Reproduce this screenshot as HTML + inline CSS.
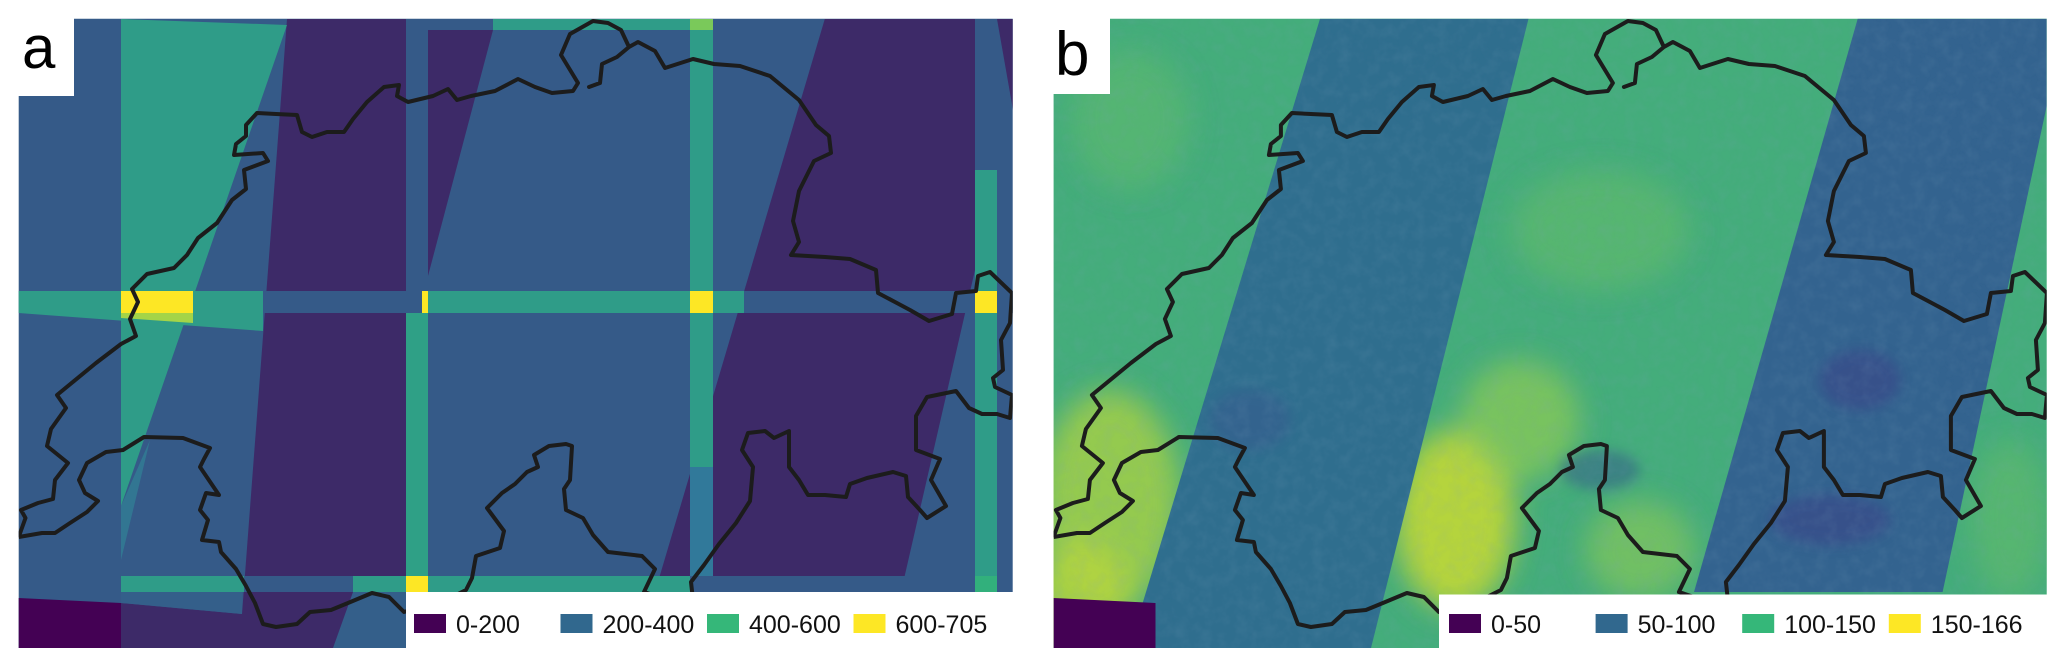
<!DOCTYPE html>
<html><head><meta charset="utf-8"><style>
html,body{margin:0;padding:0;background:#fff;}
svg{display:block;font-family:"Liberation Sans",sans-serif;}
</style></head><body>
<svg id="fig" width="2067" height="666" viewBox="0 0 2067 666">
<defs>
<clipPath id="clipA"><rect x="18.7" y="18.7" width="994" height="629.3"/></clipPath>
<clipPath id="clipB"><rect x="1053.6" y="18.7" width="993.1" height="629.3"/></clipPath>
<filter id="noise" x="0" y="0" width="100%" height="100%">
<feTurbulence type="fractalNoise" baseFrequency="0.08" numOctaves="3" seed="4"/>
<feColorMatrix type="matrix" values="0 0 0 0 0.2  0 0 0 0 0.35  0 0 0 0 0.5  0 0 0 -1.6 1.0"/>
</filter>
<filter id="blur12"><feGaussianBlur stdDeviation="14"/></filter>
<filter id="blur6"><feGaussianBlur stdDeviation="6"/></filter>
<polyline id="border" fill="none" stroke="#1c1c1c" stroke-width="4" stroke-linejoin="round" points="18.7,537 25.5,518 21,510 38,503 53,499 55,480 68,463 47,446 51,429 66,408 57,395 96,363 121,344 136,336 130,319 138,302 132,289 147,274 174,268 187,255 198,238 217,223 232,200 246,189 244,170 268,161 263,153 234,155 236,144 246,136 246,125 257,113 276,114 297,115 302,132 312,137 327,132 344,132 353,119 367,102 384,87 399,85 397,96 408,102 433,96 448,89 457,100 471,96 495,91 518,79 535,87 552,93 573,91 578,83 561,55 570,34 593,21 608,23 621,30 629,47 617,57 602,64 600,83 589,87 600,83 602,64 617,57 629,47 638,42 655,51 665,68 693,59 714,64 740,66 770,76 799,100 816,125 829,136 831,153 814,161 799,191 793,221 799,242 791,255 825,257 850,259 876,270 878,293 895,302 910,310 929,321 952,314 956,293 976,291 978,276 990,272 1012,293 1010,323 1001,340 1003,370 993,378 995,387 1012,395 1010,418 997,414 982,414 969,408 956,391 927,397 916,416 916,450 940,459 931,480 946,506 927,518 920,510 908,497 906,476 893,472 867,478 850,484 846,497 825,495 808,495 799,480 789,467 789,431 774,438 765,431 748,433 742,450 753,467 750,501 736,523 719,544 704,565 691,582 693,600 668,600 644,592 655,569 642,556 608,552 593,535 583,518 566,510 564,489 570,480 572,446 566,444 549,446 534,455 538,467 527,472 515,484 502,493 487,508 504,531 500,548 476,556 472,578 466,590 446,600 404,612 389,597 372,593 348,603 331,610 310,612 297,624 276,627 263,624 255,603 246,586 236,569 221,552 219,542 202,540 208,520 200,510 206,493 219,495 200,467 204,459 210,448 183,438 144,437 123,450 106,452 87,463 79,480 85,493 98,501 87,512 70,523 55,533 42,533 18.7,537"/>
</defs>

<!-- PANEL A -->
<g id="panel-a" clip-path="url(#clipA)">
<rect x="0" y="0" width="1040" height="666" fill="#355a88"/>
<polygon points="287,19 406,19 406,648 121,648 121,603 242,614" fill="#3d2a68"/>
<polygon points="428,30 493,30 428,276" fill="#3d2a68"/>
<polygon points="824.8,19 975,19 975,592 655,592" fill="#3d2a68"/>
<polygon points="997,19 1013,19 1013,110" fill="#3d2a68"/>
<polygon points="975,270 975,592 901,592" fill="#355a88"/>
<polygon points="121,19 287,25 121,506" fill="#2f9c88"/>
<polygon points="121,506 150,440 121,560" fill="#31889a" opacity="0.6"/>
<polygon points="18,598 121,603 121,648 18,648" fill="#440154"/>
<polygon points="121,592 242,592 242,614 121,603" fill="#345f8a"/>
<polygon points="353,592 406,592 406,648 333,648" fill="#345f8a"/>
<rect x="406" y="313" width="22" height="263" fill="#2fa086"/>
<polygon points="690,19 713,19 713,467 690,467" fill="#2f9c88"/>
<rect x="690" y="467" width="23" height="109" fill="#31799a"/>
<rect x="975" y="170" width="22" height="406" fill="#2f9c88"/>
<rect x="406" y="19" width="87" height="11" fill="#355a88"/>
<rect x="493" y="19" width="197" height="11" fill="#2f9c88"/>
<rect x="690" y="19" width="23" height="11" fill="#7ac95a"/>
<polygon points="18,313 263,313 263,331" fill="#2f9c88"/>
<polygon points="121,313 193,313 193,323 121,318" fill="#a4d448"/>
<rect x="18" y="291" width="103" height="22" fill="#2f9c88"/>
<rect x="121" y="291" width="72" height="22" fill="#fde725"/>
<rect x="193" y="291" width="70" height="22" fill="#2f9c88"/>
<rect x="263" y="291" width="165" height="22" fill="#355a88"/>
<rect x="422" y="291" width="6" height="22" fill="#fde725"/>
<rect x="428" y="291" width="262" height="22" fill="#2f9c88"/>
<rect x="690" y="291" width="23" height="22" fill="#fde725"/>
<rect x="713" y="291" width="31" height="22" fill="#2f9c88"/>
<rect x="744" y="291" width="231" height="22" fill="#355a88"/>
<rect x="975" y="291" width="22" height="22" fill="#fde725"/>
<rect x="997" y="291" width="16" height="22" fill="#355a88"/>
<rect x="121" y="576" width="123" height="16" fill="#2f9c88"/>
<rect x="244" y="576" width="109" height="16" fill="#355a88"/>
<rect x="353" y="576" width="53" height="16" fill="#2f9c88"/>
<rect x="406" y="576" width="22" height="16" fill="#fde725"/>
<rect x="428" y="576" width="262" height="16" fill="#2f9c88"/>
<rect x="690" y="576" width="285" height="16" fill="#355a88"/>
<rect x="975" y="576" width="22" height="16" fill="#32b07c"/>
<use href="#border"/>
</g>
<rect x="406" y="592" width="640" height="74" fill="#fff"/>
<rect x="0" y="0" width="74" height="96" fill="#fff"/>
<text x="22" y="68" font-size="60" fill="#000">a</text>

<!-- PANEL B -->
<g id="panel-b" clip-path="url(#clipB)">
<rect x="1040" y="0" width="1027" height="666" fill="#44ad7b"/>
<g filter="url(#blur12)">
<ellipse cx="1110" cy="500" rx="70" ry="110" fill="#a9d145" opacity="0.8"/>
<ellipse cx="1080" cy="600" rx="50" ry="60" fill="#b8d63c" opacity="0.8"/>
<ellipse cx="1455" cy="520" rx="60" ry="90" fill="#c9db33" opacity="0.85"/>
<ellipse cx="1520" cy="420" rx="60" ry="60" fill="#8fcc55" opacity="0.7"/>
<ellipse cx="1640" cy="550" rx="55" ry="50" fill="#8fcc55" opacity="0.6"/>
<ellipse cx="1600" cy="230" rx="90" ry="60" fill="#62bd6b" opacity="0.6"/>
<ellipse cx="1130" cy="120" rx="60" ry="70" fill="#62bd6b" opacity="0.5"/>
<ellipse cx="2010" cy="520" rx="40" ry="80" fill="#62bd6b" opacity="0.6"/>
</g>
<polygon points="1320,18.7 1528.5,18.7 1371,648 1129,648" fill="#2f6e8e"/>
<polygon points="1857.7,18.7 2046.7,18.7 2046.7,106 1942.6,592 1694,592" fill="#33638f"/>
<g filter="url(#blur6)" opacity="0.5">
<ellipse cx="1860" cy="380" rx="40" ry="30" fill="#3b3f87"/>
<ellipse cx="1830" cy="520" rx="60" ry="25" fill="#3b3f87"/>
<ellipse cx="1600" cy="470" rx="40" ry="20" fill="#355a8c"/>
<ellipse cx="1250" cy="420" rx="40" ry="30" fill="#385a8f"/>
</g>
<rect x="1040" y="0" width="1027" height="666" filter="url(#noise)" opacity="0.15"/>
<polygon points="1053.6,598 1155.5,603 1155.5,648 1053.6,648" fill="#440154"/>
<use href="#border" transform="translate(1034.9,0)"/>
</g>
<rect x="1439" y="594.5" width="628" height="72" fill="#fff"/>
<rect x="1034" y="0" width="76" height="94" fill="#fff"/>
<text x="1055" y="75" font-size="62" fill="#000">b</text>

<g id="legends"></g>
</svg>
<script>
const legendALabels = ["0-200", "200-400", "400-600", "600-705"];
const legendBLabels = ["0-50", "50-100", "100-150", "150-166"];
const legendColors = ["#440154", "#31688e", "#35b779", "#fde725"];
const ns = "http://www.w3.org/2000/svg";
const g = document.getElementById("legends");
function drawLegend(labels, x0, step) {
  labels.forEach((lab, i) => {
    const x = x0 + i * step;
    const r = document.createElementNS(ns, "rect");
    r.setAttribute("x", x); r.setAttribute("y", 614);
    r.setAttribute("width", 32); r.setAttribute("height", 19);
    r.setAttribute("fill", legendColors[i]);
    
    
    g.appendChild(r);
    const t = document.createElementNS(ns, "text");
    t.setAttribute("x", x + 42); t.setAttribute("y", 633);
    t.setAttribute("font-size", "25"); t.setAttribute("fill", "#111");
    t.textContent = lab;
    
    
    g.appendChild(t);
  });
}
drawLegend(legendALabels, 414, 146.5);
drawLegend(legendBLabels, 1449, 146.6);
</script>
</body></html>
